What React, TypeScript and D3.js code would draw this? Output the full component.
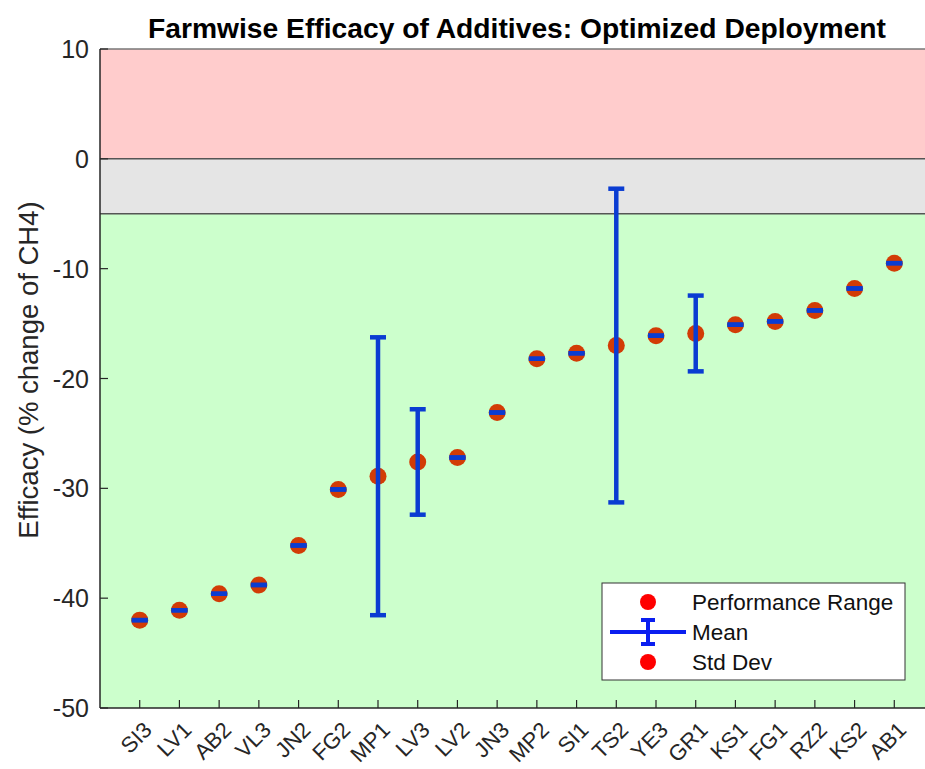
import React from 'react';
import * as d3 from 'd3';

const categories = ['SI3','LV1','AB2','VL3','JN2','FG2','MP1','LV3','LV2','JN3','MP2','SI1','TS2','YE3','GR1','KS1','FG1','RZ2','KS2','AB1'];
const means = [-42.0,-41.1,-39.6,-38.8,-35.2,-30.1,-28.9,-27.6,-27.2,-23.1,-18.2,-17.7,-17.0,-16.1,-15.9,-15.1,-14.8,-13.8,-11.8,-9.5];
const stdDevs = [0,0,0,0,0,0,12.65,4.8,0,0,0,0,14.28,0,3.45,0,0,0,0,0];
const yTicks = [10,0,-10,-20,-30,-40,-50];
const bands = [
  { from: 10, to: 0, color: '#ffcccc' },
  { from: 0, to: -5, color: '#e5e5e5' },
  { from: -5, to: -50, color: '#ccffcc' },
];
const legendItems = ['Performance Range', 'Mean', 'Std Dev'];
const title = 'Farmwise Efficacy of Additives: Optimized Deployment';
const yLabel = 'Efficacy (% change of CH4)';

const W = 925, H = 769;
const left = 100, right = 934, top = 49, bottom = 708;
const DOT = '#d23c06';
const BLUE = '#0a3cd2';
const AX = '#262626';
const FONT = 'Liberation Sans, Arial, Helvetica, sans-serif';

export default function App() {
  const x = d3.scaleLinear().domain([0, categories.length + 1]).range([left, right]);
  const y = d3.scaleLinear().domain([-50, 10]).range([bottom, top]);
  const cap = 8;
  return (
    <div style={{ position: 'absolute', left: 0, top: 0 }}>
      <svg width={W} height={H} style={{ display: 'block', background: '#fff' }} fontFamily={FONT}>
        <defs>
          <clipPath id="plot"><rect x={left} y={top} width={right - left} height={bottom - top} /></clipPath>
        </defs>
        {bands.map((b, i) => (
          <rect key={i} x={left} y={y(b.from)} width={right - left} height={y(b.to) - y(b.from)} fill={b.color} />
        ))}
        <line x1={left} x2={right} y1={y(0)} y2={y(0)} stroke="#555" strokeWidth={1.5} />
        <line x1={left} x2={right} y1={y(-5)} y2={y(-5)} stroke="#555" strokeWidth={1.5} />
        <line x1={left} x2={right} y1={top} y2={top} stroke="#777" strokeWidth={1.5} />
        <g clipPath="url(#plot)">
          {means.map((m, i) => (
            <circle key={'d' + i} cx={x(i + 1)} cy={y(m)} r={8.5} fill={DOT} />
          ))}
          {means.map((m, i) => {
            const cx = x(i + 1);
            const y1 = y(m + stdDevs[i]);
            const y2 = y(m - stdDevs[i]);
            return (
              <g key={'e' + i} stroke={BLUE} strokeWidth={4.5}>
                <line x1={cx} x2={cx} y1={y1} y2={y2} />
                <line x1={cx - cap} x2={cx + cap} y1={y1} y2={y1} />
                <line x1={cx - cap} x2={cx + cap} y1={y2} y2={y2} />
              </g>
            );
          })}
        </g>
        {/* axes */}
        <line x1={left} x2={left} y1={top} y2={bottom} stroke={AX} strokeWidth={1.5} />
        <line x1={left} x2={right} y1={bottom} y2={bottom} stroke={AX} strokeWidth={1.5} />
        {yTicks.map((t) => (
          <g key={'y' + t}>
            <line x1={left} x2={left + 8} y1={y(t)} y2={y(t)} stroke={AX} strokeWidth={1.2} />
            <text x={left - 11} y={y(t)} dy="0.36em" textAnchor="end" fontSize={25} fill={AX}>{t}</text>
          </g>
        ))}
        {categories.map((c, i) => (
          <g key={'x' + c + i}>
            <line x1={x(i + 1)} x2={x(i + 1)} y1={bottom} y2={bottom - 8} stroke={AX} strokeWidth={1.2} />
            <text transform={`translate(${x(i + 1) + 8},${bottom + 18}) rotate(-45)`} textAnchor="end" dy="0.35em" fontSize={22} fill={AX}>{c}</text>
          </g>
        ))}
        <text x={(left + right) / 2} y={38} textAnchor="middle" fontSize={27.5} fontWeight="bold" fill="#000" textLength={738} lengthAdjust="spacingAndGlyphs">{title}</text>
        <text transform={`translate(38,370) rotate(-90)`} textAnchor="middle" fontSize={27.5} fill={AX}>{yLabel}</text>
        {/* legend */}
        <g>
          <rect x={602} y={583} width={303} height={97} fill="#fff" stroke="#333" strokeWidth={1} />
          {legendItems.map((t, i) => (
            <text key={t} x={692} y={602 + i * 30} dy="0.35em" fontSize={22.5} fill="#111">{t}</text>
          ))}
          <circle cx={648} cy={602} r={8} fill="#ff0000" />
          <circle cx={648} cy={662} r={8} fill="#ff0000" />
          <g stroke="#0a1ef0" strokeWidth={4}>
            <line x1={610} x2={686} y1={632} y2={632} />
            <line x1={648} x2={648} y1={620} y2={644} />
            <line x1={641} x2={655} y1={620} y2={620} />
            <line x1={641} x2={655} y1={644} y2={644} />
          </g>
        </g>
      </svg>
    </div>
  );
}
